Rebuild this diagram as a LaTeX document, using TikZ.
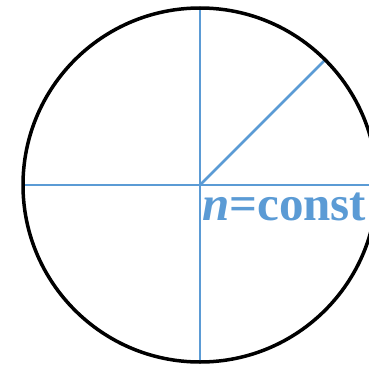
\documentclass[tikz,border=0pt]{standalone}
\usepackage{fontspec}
\setmainfont{Liberation Serif}
\usetikzlibrary{calc}
\definecolor{lineblue}{RGB}{91,155,213}
\begin{document}
\begin{tikzpicture}[x=1pt,y=1pt,
  blueline/.style={draw=lineblue,line width=2.5pt},
  rim/.style={draw=black,line width=3.5pt},
  label/.style={text=lineblue,font=\fontsize{49}{51}\selectfont\bfseries,anchor=base west,inner sep=0pt}]
\useasboundingbox (0,0) rectangle (369,365);
\clip (0,0) rectangle (369,365);
\coordinate (O) at (200,180);
\coordinate (L) at (23,180);
\coordinate (R) at (372,180);
\coordinate (T) at (200,357);
\coordinate (B) at (200,3);
\coordinate (D) at ($(O)+(125.2,125.2)$);
\draw[blueline] (L) -- (R);
\draw[blueline] (T) -- (B);
\draw[blueline] (O) -- (D);
\draw[rim] (O) circle (177);
\node[label] (txt) at (202,145) {\textit{n}=const};
\end{tikzpicture}
\end{document}
